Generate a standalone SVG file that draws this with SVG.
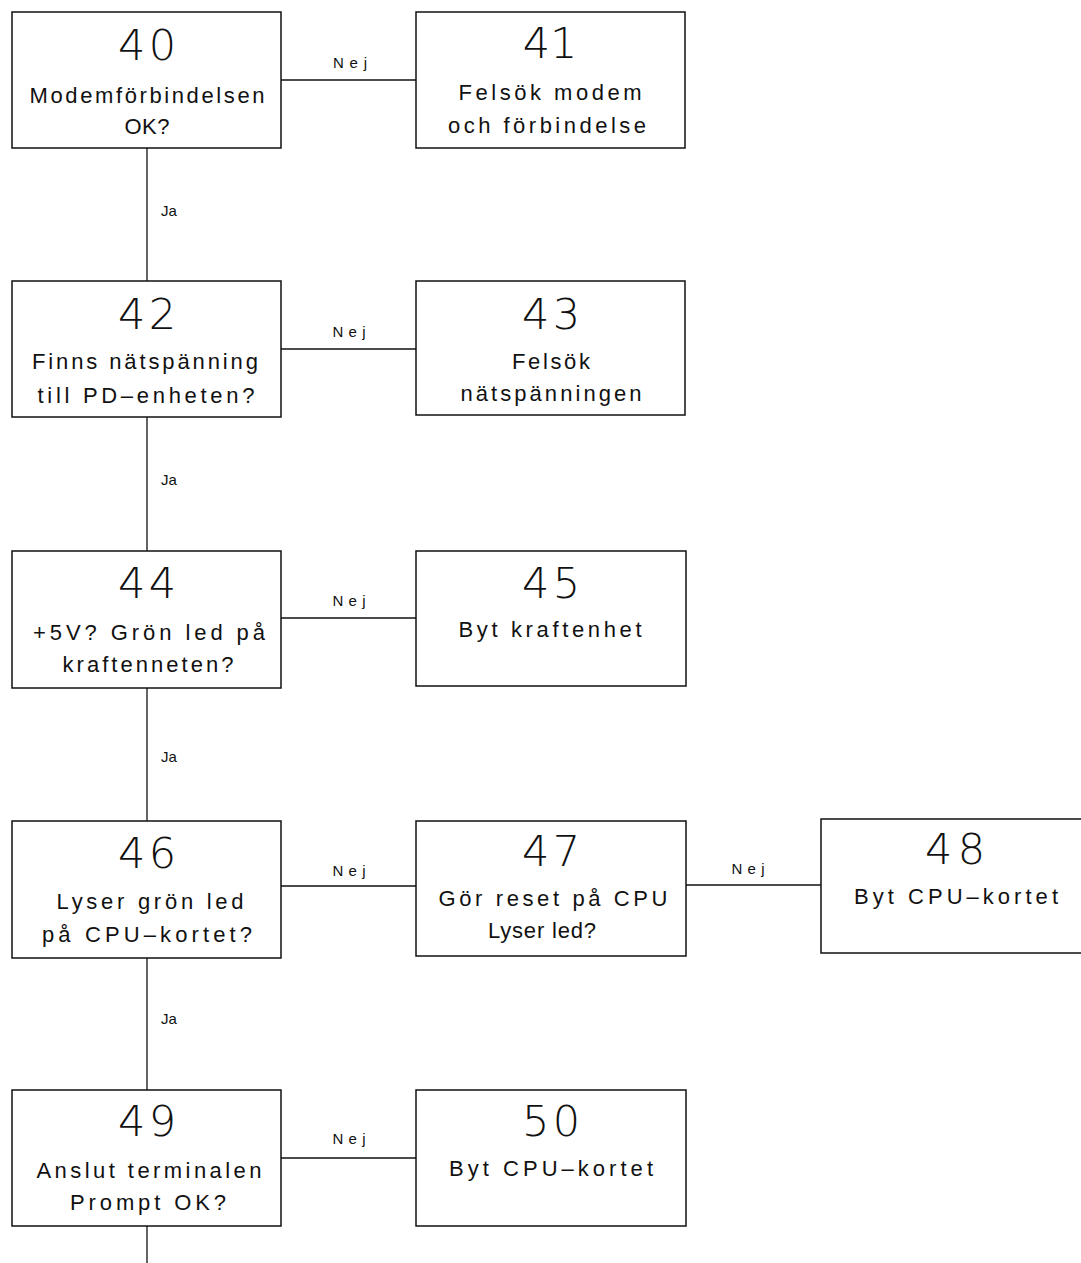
<svg xmlns="http://www.w3.org/2000/svg" width="1081" height="1263" viewBox="0 0 1081 1263">
<style>
.box{fill:#fff;stroke:#111;stroke-width:1.5}
.ln{stroke:#111;stroke-width:1.3;fill:none}
.num{font-family:"DejaVu Sans","Liberation Sans",sans-serif;font-weight:200;font-size:43px;fill:#111;text-anchor:middle}
.t{font-family:"Liberation Sans",Arial,sans-serif;font-size:22px;fill:#111;text-anchor:middle}
.lb{font-family:"Liberation Sans",Arial,sans-serif;font-size:15px;fill:#111;text-anchor:middle}
</style>
<rect width="1081" height="1263" fill="#fff"/>
<g id="connectors">
<line class="ln" x1="147" y1="148" x2="147" y2="281"/>
<line class="ln" x1="147" y1="417" x2="147" y2="551"/>
<line class="ln" x1="147" y1="688" x2="147" y2="821"/>
<line class="ln" x1="147" y1="958" x2="147" y2="1090"/>
<line class="ln" x1="147" y1="1226" x2="147" y2="1263"/>
<line class="ln" x1="281" y1="80" x2="416" y2="80"/>
<line class="ln" x1="281" y1="349" x2="416" y2="349"/>
<line class="ln" x1="281" y1="618" x2="416" y2="618"/>
<line class="ln" x1="281" y1="886" x2="416" y2="886"/>
<line class="ln" x1="686" y1="885" x2="821" y2="885"/>
<line class="ln" x1="281" y1="1158" x2="416" y2="1158"/>
<text class="lb" x="350" y="68" textLength="34">Nej</text>
<text class="lb" x="349" y="337" textLength="33">Nej</text>
<text class="lb" x="349" y="606" textLength="33">Nej</text>
<text class="lb" x="349" y="876" textLength="33">Nej</text>
<text class="lb" x="748" y="874" textLength="33">Nej</text>
<text class="lb" x="349" y="1144" textLength="33">Nej</text>
<text class="lb" x="169" y="216">Ja</text>
<text class="lb" x="169" y="485">Ja</text>
<text class="lb" x="169" y="762">Ja</text>
<text class="lb" x="169" y="1024">Ja</text>
</g>
<g id="n40">
<rect class="box" x="12" y="12" width="269" height="136"/>
<text class="num" x="147" y="60" textLength="58">40</text>
<text class="t" x="147" y="103" textLength="235" lengthAdjust="spacing">Modemförbindelsen</text>
<text class="t" x="147" y="134" textLength="45" lengthAdjust="spacing">OK?</text>
</g>
<g id="n41">
<rect class="box" x="416" y="12" width="269" height="136"/>
<text class="num" x="550" y="58">41</text>
<text class="t" x="550" y="100" textLength="183" lengthAdjust="spacing">Felsök modem</text>
<text class="t" x="547" y="133" textLength="198" lengthAdjust="spacing">och förbindelse</text>
</g>
<g id="n42">
<rect class="box" x="12" y="281" width="269" height="136"/>
<text class="num" x="147" y="329" textLength="58">42</text>
<text class="t" x="145" y="369" textLength="226" lengthAdjust="spacing">Finns nätspänning</text>
<text class="t" x="146" y="403" textLength="217" lengthAdjust="spacing">till PD–enheten?</text>
</g>
<g id="n43">
<rect class="box" x="416" y="281" width="269" height="134"/>
<text class="num" x="551" y="329" textLength="58">43</text>
<text class="t" x="551" y="369" textLength="78" lengthAdjust="spacing">Felsök</text>
<text class="t" x="551" y="401" textLength="181" lengthAdjust="spacing">nätspänningen</text>
</g>
<g id="n44">
<rect class="box" x="12" y="551" width="269" height="137"/>
<text class="num" x="147" y="598" textLength="58">44</text>
<text class="t" x="149" y="640" textLength="232" lengthAdjust="spacing">+5V? Grön led på</text>
<text class="t" x="148" y="672" textLength="171" lengthAdjust="spacing">kraftenneten?</text>
</g>
<g id="n45">
<rect class="box" x="416" y="551" width="270" height="135"/>
<text class="num" x="551" y="598" textLength="58">45</text>
<text class="t" x="550" y="637" textLength="183" lengthAdjust="spacing">Byt kraftenhet</text>
</g>
<g id="n46">
<rect class="box" x="12" y="821" width="269" height="137"/>
<text class="num" x="147" y="868" textLength="58">46</text>
<text class="t" x="150" y="909" textLength="187" lengthAdjust="spacing">Lyser grön led</text>
<text class="t" x="147" y="942" textLength="210" lengthAdjust="spacing">på CPU–kortet?</text>
</g>
<g id="n47">
<rect class="box" x="416" y="821" width="270" height="135"/>
<text class="num" x="551" y="866" textLength="58">47</text>
<text class="t" x="553" y="906" textLength="229" lengthAdjust="spacing">Gör reset på CPU</text>
<text class="t" x="542" y="938" textLength="108" lengthAdjust="spacing">Lyser led?</text>
</g>
<g id="n48">
<rect class="box" x="821" y="819" width="262" height="134"/>
<text class="num" x="955" y="864" textLength="60">48</text>
<text class="t" x="956" y="904" textLength="204" lengthAdjust="spacing">Byt CPU–kortet</text>
</g>
<g id="n49">
<rect class="box" x="12" y="1090" width="269" height="136"/>
<text class="num" x="147" y="1136" textLength="58">49</text>
<text class="t" x="149" y="1178" textLength="225" lengthAdjust="spacing">Anslut terminalen</text>
<text class="t" x="148" y="1210" textLength="156" lengthAdjust="spacing">Prompt OK?</text>
</g>
<g id="n50">
<rect class="box" x="416" y="1090" width="270" height="136"/>
<text class="num" x="551" y="1136" textLength="58">50</text>
<text class="t" x="551" y="1176" textLength="204" lengthAdjust="spacing">Byt CPU–kortet</text>
</g>
</svg>
